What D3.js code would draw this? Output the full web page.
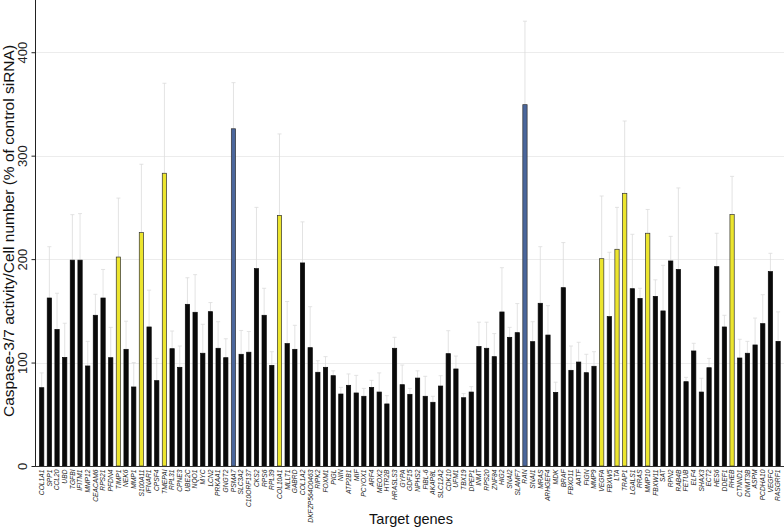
<!DOCTYPE html>
<html><head><meta charset="utf-8">
<script src="https://cdn.jsdelivr.net/npm/d3@7"></script>
<style>body{margin:0;background:#fff}svg{display:block}</style>
</head><body>
<script>
const genes = ["COL1A1","SPP1","CCL20","UBD","TGFBI","IFITM1","MMP12","CEACAM6","RPS21","PFDN4","TIMP1","NEK6","MMP1","S100A11","IFNAR1","CPSF4","TMEPAI","RPL31","CPNE3","UBE2C","NQO1","MYC","LCN2","PRKAA1","GNGT2","PSMA7","SLC3A2","C10ORF137","CKS2","RPS6","RPL39","COL10A1","MLLT1","GABRD","COL1A2","DKFZP564O0463","RIPK2","FOXM1","PIGL","NIN","ATP2B1","MIF","PCYOX1","ARF4","MEOX2","HTR2B","HRASLS3","GYPA","GDF15","NPHS2","FIBL-6","AKAP8L","SLC12A2","CDK10","UFM1","TBX19","DPEP1","INMT","RPS20","ZNF84","HIG2","SNAI2","SLAMF7","RAN","SNAI1","MRAS","ARHGEF4","MDK","BRAF","FBXO11","AATF","FIGN","MMP9","VEGFA","FBXW5","LTA","TRAP1","LGALS1","RRAS","MMP10","FBXW11","SAT","RPN2","RAB4B","FETUB","ELF4","SHAX3","ECT2","HES6","DDEF1","RHEB","CTNND1","DNMT3B","ASPM","PCDHA10","VEGFC","RASGRF1"];
const means = [75.7,162.4,132,105,199,199,96.7,145.7,162.4,104.7,202,112.8,76.4,225.6,134.4,82.5,283,113.4,95.4,156.3,148.6,109,149.2,113.8,104.7,326,108,110,190.8,145.7,97.3,242.3,118.3,112.8,196.3,114.4,90.6,95.4,87.3,69.6,78,70.6,67.4,76,71.5,60,113.8,78.6,69.3,85,67.4,61.6,77.3,108.6,93.8,66,71.5,115.5,113.8,105.7,148.9,124.4,128.9,349.3,120.2,157.3,126.6,71.2,172.4,92.5,100.5,90.2,96.4,200.4,144.4,209.5,263.6,171.4,162,225,164,149.9,198.2,190,81.5,111.2,71.5,95,192.7,134.4,243,104.4,109,117,137.6,187.9,120.5];
const upper = [90,212,167,138,243,244,120.5,166,190,134,259,140,100,291.7,170,104,370,130.5,116,182,185,137,158,139.5,123,370.6,131,130,250,171.8,110.5,321,159,136,236,154,101.8,105.7,92,76,89,87.6,75,82.8,90,68,124.4,97.6,75,92,86.7,67.4,87.3,130.8,106.3,70,76.7,139,139,128,191.7,134,157,430,139.5,212,155,81,216,116,119.6,108,110.5,261,206.6,250,333.5,224,171.8,248,180,194,222,268.8,85.7,118.6,84.8,104,225,145.7,280,122.5,120.5,143,165.6,205.6,149];
const groups = ["black","black","black","black","black","black","black","black","black","black","yellow","black","black","yellow","black","black","yellow","black","black","black","black","black","black","black","black","blue","black","black","black","black","black","yellow","black","black","black","black","black","black","black","black","black","black","black","black","black","black","black","black","black","black","black","black","black","black","black","black","black","black","black","black","black","black","black","blue","black","black","black","black","black","black","black","black","black","yellow","black","yellow","yellow","black","black","yellow","black","black","black","black","black","black","black","black","black","black","yellow","black","black","black","black","black","black"];
const yTicks = [0,100,200,300,400];

const W = 784, H = 529;
const fills = {black:"#0a0a0a", yellow:"#ece52e", blue:"#4a669c"};
const svg = d3.select("body").append("svg").attr("width",W).attr("height",H)
  .style("font-family","Liberation Sans, Arial, sans-serif");

const x = d3.scaleBand().domain(genes).range([37.4,782.4]).paddingInner(0.44).paddingOuter(0.28);
const y = d3.scaleLinear().domain([0,450]).range([466,0.5]);

// gridlines
svg.append("g").selectAll("line").data(yTicks.slice(1)).join("line")
  .attr("x1",36).attr("x2",W).attr("y1",d=>Math.round(y(d))+0.5).attr("y2",d=>Math.round(y(d))+0.5)
  .attr("stroke","#ececec").attr("stroke-width",1);

// error bars
const eb = svg.append("g").attr("stroke","#dcdcdc").attr("stroke-width",0.8);
genes.forEach((g,i)=>{
  const cx = x(g)+x.bandwidth()/2;
  eb.append("line").attr("x1",cx).attr("x2",cx).attr("y1",y(means[i])).attr("y2",y(upper[i]));
  eb.append("line").attr("x1",cx-2).attr("x2",cx+2).attr("y1",y(upper[i])).attr("y2",y(upper[i]));
});

// bars
svg.append("g").selectAll("rect").data(genes).join("rect")
  .attr("x",d=>x(d)).attr("width",x.bandwidth())
  .attr("y",(d,i)=>y(means[i])).attr("height",(d,i)=>y(0)-y(means[i]))
  .attr("fill",(d,i)=>fills[groups[i]])
  .attr("stroke",(d,i)=>groups[i]==="black"?"#0a0a0a":"#333")
  .attr("stroke-width",0.7);

// y axis
const ya = svg.append("g").attr("transform","translate(35.5,0)")
  .call(d3.axisLeft(y).tickValues(yTicks).tickSize(4).tickSizeOuter(0));
ya.select(".domain").attr("stroke","#222").attr("d","M0,0V466");
ya.selectAll(".tick line").attr("stroke","#222");
ya.selectAll(".tick text").attr("font-size",13).attr("fill","#222")
  .attr("x",0).attr("y",0).attr("dy",0)
  .attr("text-anchor","middle")
  .attr("transform","translate(-9,0) rotate(-90)");

// x axis
const xa = svg.append("g").attr("transform","translate(0,466.5)")
  .call(d3.axisBottom(x).tickSize(0).tickSizeOuter(0));
xa.select(".domain").attr("stroke","#333").attr("d","M35,0H784");
xa.selectAll(".tick text").attr("font-size",6.7).attr("font-style","italic").attr("fill","#222")
  .attr("text-anchor","end").attr("dy","0.35em").attr("y",0)
  .attr("transform","translate(0,3) rotate(-90)");

// axis titles
svg.append("text").attr("transform","translate(14,231) rotate(-90)")
  .attr("text-anchor","middle").attr("font-size",15.5).attr("fill","#111")
  .text("Caspase-3/7 activity/Cell number (% of control siRNA)");
svg.append("text").attr("x",411).attr("y",524).attr("text-anchor","middle")
  .attr("font-size",14.5).attr("fill","#111").text("Target genes");
</script>
</body></html>
